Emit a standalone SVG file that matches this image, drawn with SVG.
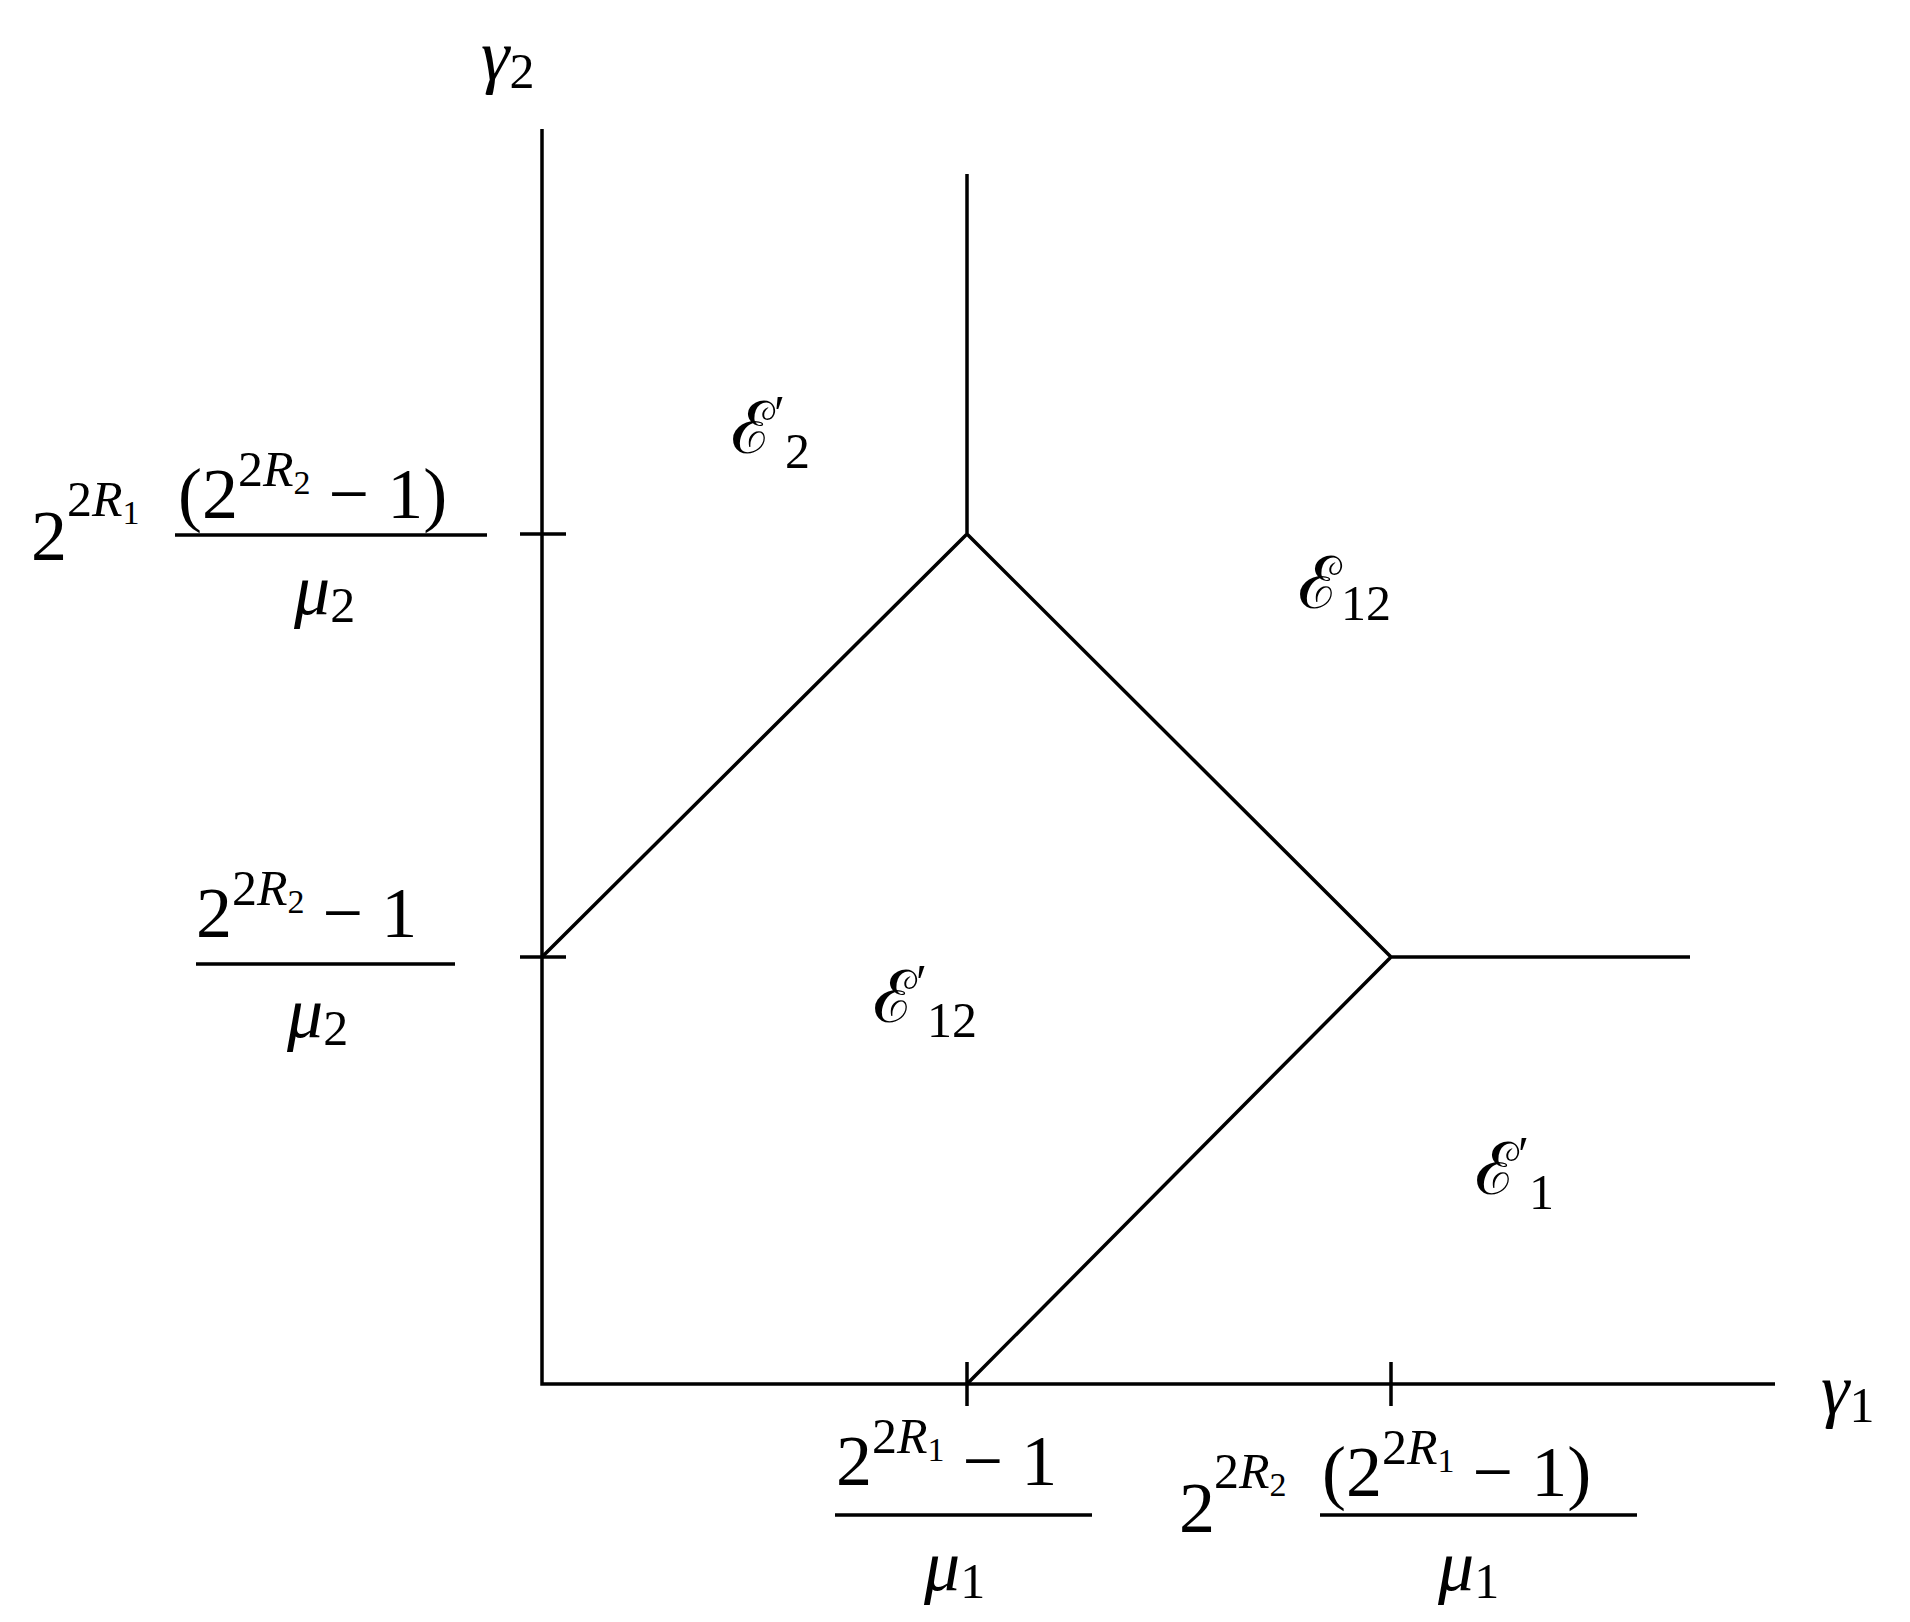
<svg xmlns="http://www.w3.org/2000/svg" width="1910" height="1622" viewBox="0 0 1910 1622">
<style>
.l{stroke:#000;stroke-width:3.5;fill:none}
text{font-family:"Liberation Serif","DejaVu Serif",serif;fill:#000;font-size:72px}
.i{font-style:italic}
.s{font-size:50px}
.t{font-size:34px}
</style>
<rect width="1910" height="1622" fill="#fff"/>
<g id="connectors">
<path class="l" d="M542 129V1384H1775"/>
<path class="l" d="M967 174V534L542 957M967 534L1391 957H1690M1391 957L967 1384"/>
<path class="l" d="M520 534H566M520 957H566M967 1362V1406M1391 1362V1406"/>
<path class="l" d="M175 535H487M196 964H455M835 1515H1092M1320 1515H1637"/>
</g>
<g id="axis-labels">
<text class="i" x="481" y="80">γ<tspan class="s" font-style="normal" dy="8">2</tspan></text>
<text class="i" x="1821" y="1414">γ<tspan class="s" font-style="normal" dy="8">1</tspan></text>
</g>
<g id="ytick-top">
<text x="31" y="560">2</text>
<text class="s" x="67" y="516">2<tspan class="i">R</tspan><tspan class="t" dy="8">1</tspan></text>
<text x="178" y="518">(2<tspan class="s" dy="-32">2<tspan class="i">R</tspan><tspan class="t" dy="8">2</tspan></tspan><tspan dy="24">  − 1)</tspan></text>
<text class="i" x="294" y="614">μ<tspan class="s" font-style="normal" dy="8">2</tspan></text>
</g>
<g id="ytick-mid">
<text x="196" y="937">2<tspan class="s" dy="-32">2<tspan class="i">R</tspan><tspan class="t" dy="8">2</tspan></tspan><tspan dy="24">  − 1</tspan></text>
<text class="i" x="287" y="1037">μ<tspan class="s" font-style="normal" dy="8">2</tspan></text>
</g>
<g id="xtick-1">
<text x="836" y="1485">2<tspan class="s" dy="-32">2<tspan class="i">R</tspan><tspan class="t" dy="8">1</tspan></tspan><tspan dy="24">  − 1</tspan></text>
<text class="i" x="924" y="1590">μ<tspan class="s" font-style="normal" dy="8">1</tspan></text>
</g>
<g id="xtick-2">
<text x="1179" y="1532">2</text>
<text class="s" x="1214" y="1488">2<tspan class="i">R</tspan><tspan class="t" dy="8">2</tspan></text>
<text x="1322" y="1496">(2<tspan class="s" dy="-32">2<tspan class="i">R</tspan><tspan class="t" dy="8">1</tspan></tspan><tspan dy="24">  − 1)</tspan></text>
<text class="i" x="1438" y="1590">μ<tspan class="s" font-style="normal" dy="8">1</tspan></text>
</g>
<g id="regions">
<text x="731" y="453">ℰ<tspan class="s" dy="-23">′</tspan><tspan class="s" dy="38">2</tspan></text>
<text x="1298" y="608">ℰ<tspan class="s" dy="12">12</tspan></text>
<text x="873" y="1022">ℰ<tspan class="s" dy="-23">′</tspan><tspan class="s" dy="38">12</tspan></text>
<text x="1475" y="1194">ℰ<tspan class="s" dy="-23">′</tspan><tspan class="s" dy="38">1</tspan></text>
</g>
</svg>
